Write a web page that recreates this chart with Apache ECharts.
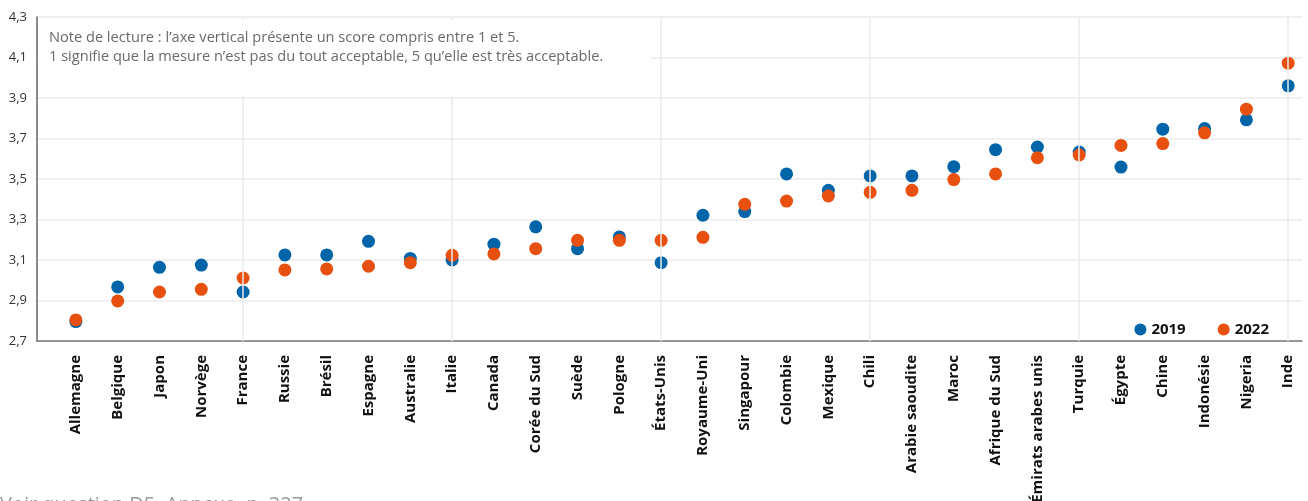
<!DOCTYPE html>
<html>
<head>
<meta charset="utf-8">
<script src="https://cdn.jsdelivr.net/npm/echarts@6/dist/echarts.min.js"></script>
<style>
html,body{margin:0;padding:0;background:#fff;}
#chart{width:1308px;height:501px;}
</style>
</head>
<body>
<div id="chart"></div>
<script>
const categories = ["Allemagne","Belgique","Japon","Norvège","France","Russie","Brésil","Espagne","Australie","Italie","Canada","Corée du Sud","Suède","Pologne","États-Unis","Royaume-Uni","Singapour","Colombie","Mexique","Chili","Arabie saoudite","Maroc","Afrique du Sud","Émirats arabes unis","Turquie","Égypte","Chine","Indonésie","Nigeria","Inde"];
const values2019 = [2.796,2.967,3.064,3.075,2.942,3.125,3.125,3.192,3.108,3.100,3.178,3.264,3.156,3.214,3.087,3.321,3.339,3.525,3.444,3.515,3.515,3.561,3.645,3.658,3.633,3.559,3.746,3.749,3.792,3.960];
const values2022 = [2.804,2.898,2.942,2.955,3.011,3.051,3.056,3.069,3.087,3.123,3.130,3.156,3.197,3.197,3.197,3.212,3.375,3.391,3.416,3.434,3.444,3.497,3.525,3.605,3.619,3.666,3.675,3.728,3.845,4.072];
const gridCategories = [4, 9, 14, 19, 24, 29];
const noteLines = ["Note de lecture : l’axe vertical présente un score compris entre 1 et 5.", "1 signifie que la mesure n’est pas du tout acceptable, 5 qu’elle est très acceptable."];
const sourceText = "Voir question D5. Annexe, p. 327";

const FONT = "'Open Sans', 'Noto Sans', sans-serif";
const chart = echarts.init(document.getElementById('chart'));
const idx = categories.map((_, i) => i);
chart.setOption({
  animation: false,
  grid: { left: 37, right: 6, top: 17, bottom: 160, containLabel: false, outerBoundsMode: 'none' },
  xAxis: {
    type: 'value', min: -0.93, max: 29.33,
    axisLine: { show: true, onZero: false, lineStyle: { color: '#777', width: 1.5 } },
    axisTick: { show: false },
    splitLine: { show: false },
    axisLabel: {
      customValues: idx, rotate: 90, margin: 14,
      formatter: v => categories[Math.round(v)],
      fontFamily: FONT, fontWeight: 'bold', fontSize: 15, color: '#111'
    }
  },
  yAxis: {
    type: 'value', min: 2.7, max: 4.3, interval: 0.2,
    axisLine: { show: true, onZero: false, lineStyle: { color: '#666', width: 1.5 } },
    axisTick: { show: false },
    splitLine: { show: true, lineStyle: { color: '#ebebeb', width: 1.5 } },
    axisLabel: {
      margin: 10, fontFamily: FONT, fontSize: 13, color: '#333',
      formatter: v => v.toFixed(1).replace('.', ',')
    }
  },
  legend: {
    right: 34, top: 317, itemGap: 32, itemWidth: 12, itemHeight: 12,
    icon: 'circle',
    textStyle: { fontFamily: FONT, fontWeight: 'bold', fontSize: 15, color: '#111' },
    data: ['2019', '2022']
  },
  graphic: [
    { type: 'rect', z: 50, shape: { x: 39, y: 20, width: 612, height: 76 }, style: { fill: '#fff' } },
    { type: 'text', z: 51, left: 49, top: 28, style: { text: noteLines.join('\n'), font: "14.6px 'Open Sans', sans-serif", fill: '#6a6a6a', lineHeight: 19 } },
    { type: 'text', z: 51, left: 0, top: 495, style: { text: sourceText, font: "20px 'Open Sans', sans-serif", fill: '#999' } }
  ],
  series: [
    {
      type: 'line', name: 'grid', data: [], z: 1, silent: true,
      markLine: {
        silent: true, symbol: 'none', label: { show: false },
        lineStyle: { color: '#ebebeb', width: 1.5, type: 'solid' },
        data: gridCategories.map(i => ({ xAxis: i }))
      }
    },
    {
      type: 'scatter', name: '2019', symbolSize: 13, z: 3,
      itemStyle: { color: '#0065a8', opacity: 1 },
      data: values2019.map((v, i) => [i, v])
    },
    {
      type: 'scatter', name: '2022', symbolSize: 13, z: 4,
      itemStyle: { color: '#e8500f', opacity: 1 },
      data: values2022.map((v, i) => [i, v])
    }
  ]
});
</script>
</body>
</html>
